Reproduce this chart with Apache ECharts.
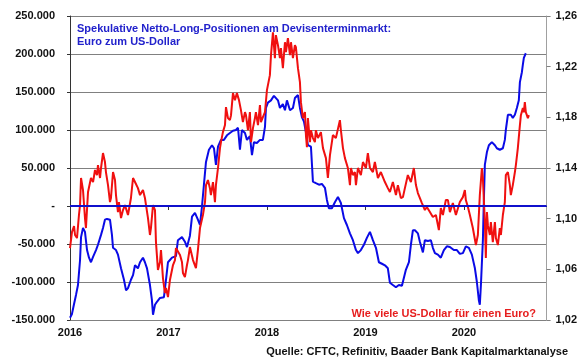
<!DOCTYPE html>
<html>
<head>
<meta charset="utf-8">
<script src="https://cdn.jsdelivr.net/npm/echarts@6/dist/echarts.min.js"></script>
<style>
html,body{margin:0;padding:0;background:#fff;}
#chart{width:580px;height:359px;}
</style>
</head>
<body>
<div id="chart"></div>
<script>
// Weekly CFTC net long positions, EUR vs USD (x = decimal year)
const blueDates = [2016.000,2016.020,2016.041,2016.061,2016.081,2016.102,2016.112,2016.132,2016.152,2016.173,2016.193,2016.213,2016.234,2016.264,2016.284,2016.315,2016.335,2016.355,2016.376,2016.406,2016.426,2016.437,2016.467,2016.487,2016.518,2016.548,2016.569,2016.589,2016.619,2016.640,2016.660,2016.690,2016.711,2016.741,2016.761,2016.782,2016.812,2016.832,2016.843,2016.863,2016.883,2016.914,2016.954,2016.975,2016.995,2017.036,2017.076,2017.096,2017.137,2017.167,2017.188,2017.218,2017.239,2017.269,2017.299,2017.320,2017.340,2017.360,2017.381,2017.411,2017.442,2017.462,2017.482,2017.503,2017.533,2017.563,2017.594,2017.624,2017.655,2017.685,2017.706,2017.726,2017.746,2017.777,2017.797,2017.827,2017.848,2017.868,2017.898,2017.929,2017.959,2017.980,2017.990,2018.010,2018.041,2018.071,2018.091,2018.112,2018.132,2018.162,2018.183,2018.203,2018.234,2018.264,2018.284,2018.315,2018.335,2018.355,2018.376,2018.396,2018.416,2018.447,2018.467,2018.497,2018.528,2018.558,2018.589,2018.609,2018.629,2018.660,2018.690,2018.721,2018.751,2018.782,2018.812,2018.843,2018.873,2018.904,2018.924,2018.954,2018.985,2019.015,2019.046,2019.076,2019.107,2019.137,2019.168,2019.198,2019.228,2019.249,2019.279,2019.310,2019.340,2019.371,2019.391,2019.411,2019.442,2019.462,2019.482,2019.503,2019.533,2019.553,2019.584,2019.604,2019.635,2019.665,2019.685,2019.706,2019.736,2019.766,2019.797,2019.827,2019.858,2019.898,2019.929,2019.959,2019.990,2020.020,2020.051,2020.081,2020.112,2020.132,2020.152,2020.162,2020.173,2020.193,2020.203,2020.213,2020.234,2020.254,2020.284,2020.315,2020.335,2020.365,2020.396,2020.416,2020.426,2020.447,2020.477,2020.497,2020.518,2020.538,2020.558,2020.569,2020.589,2020.599,2020.609,2020.629];
const blueValues = [-147000,-142000,-129000,-117000,-104000,-71000,-41000,-29000,-34000,-58000,-68000,-74000,-67000,-58000,-51000,-38000,-29000,-18000,-17000,-18000,-38000,-55000,-58000,-64000,-82000,-97000,-111000,-108000,-97000,-91000,-78000,-82000,-74000,-68000,-74000,-82000,-104000,-124000,-143000,-130000,-126000,-121000,-120000,-97000,-74000,-68000,-66000,-45000,-41000,-47000,-54000,-39000,-14000,-9000,-18000,-25000,-1000,28000,58000,74000,80000,76000,54000,78000,87000,87000,93000,96000,99000,100000,103000,74000,100000,96000,87000,92000,67000,84000,83000,87000,87000,104000,129000,136000,139000,145000,146000,139000,129000,134000,126000,139000,126000,129000,142000,146000,129000,117000,111000,97000,80000,78000,32000,30000,28000,29000,24000,8000,-3000,-3000,5000,12000,4000,-16000,-25000,-36000,-45000,-58000,-62000,-58000,-51000,-42000,-34000,-45000,-55000,-74000,-76000,-78000,-82000,-101000,-104000,-107000,-104000,-105000,-103000,-84000,-74000,-51000,-32000,-32000,-36000,-47000,-61000,-45000,-46000,-45000,-55000,-62000,-64000,-68000,-58000,-53000,-54000,-58000,-58000,-63000,-62000,-53000,-55000,-64000,-82000,-100000,-124000,-130000,-104000,-45000,8000,54000,71000,80000,84000,80000,76000,74000,76000,87000,100000,120000,120000,116000,120000,129000,139000,163000,176000,186000,195000,201000];

// EUR/USD exchange rate (x = decimal year)
const redDates = [2016.000,2016.020,2016.041,2016.051,2016.071,2016.091,2016.102,2016.112,2016.132,2016.152,2016.162,2016.183,2016.213,2016.234,2016.254,2016.274,2016.284,2016.305,2016.315,2016.335,2016.355,2016.365,2016.386,2016.406,2016.416,2016.437,2016.457,2016.467,2016.487,2016.497,2016.518,2016.538,2016.558,2016.589,2016.619,2016.640,2016.660,2016.690,2016.711,2016.741,2016.761,2016.772,2016.792,2016.812,2016.822,2016.843,2016.863,2016.873,2016.893,2016.914,2016.924,2016.944,2016.964,2016.975,2016.995,2017.015,2017.046,2017.066,2017.076,2017.096,2017.117,2017.137,2017.147,2017.167,2017.188,2017.198,2017.218,2017.249,2017.279,2017.289,2017.299,2017.320,2017.350,2017.371,2017.381,2017.401,2017.421,2017.431,2017.452,2017.472,2017.482,2017.503,2017.523,2017.533,2017.553,2017.574,2017.584,2017.604,2017.624,2017.635,2017.655,2017.675,2017.695,2017.716,2017.736,2017.756,2017.777,2017.787,2017.807,2017.827,2017.838,2017.858,2017.878,2017.888,2017.909,2017.929,2017.939,2017.959,2017.980,2018.000,2018.010,2018.030,2018.041,2018.061,2018.081,2018.091,2018.112,2018.132,2018.142,2018.162,2018.183,2018.193,2018.213,2018.234,2018.244,2018.264,2018.284,2018.294,2018.315,2018.335,2018.345,2018.365,2018.386,2018.396,2018.406,2018.416,2018.437,2018.447,2018.467,2018.487,2018.497,2018.518,2018.548,2018.569,2018.599,2018.619,2018.640,2018.670,2018.700,2018.741,2018.751,2018.772,2018.792,2018.822,2018.843,2018.853,2018.873,2018.893,2018.904,2018.924,2018.954,2018.975,2019.005,2019.025,2019.046,2019.076,2019.096,2019.127,2019.157,2019.198,2019.228,2019.249,2019.279,2019.310,2019.330,2019.360,2019.381,2019.401,2019.431,2019.462,2019.492,2019.513,2019.533,2019.553,2019.574,2019.584,2019.604,2019.624,2019.655,2019.685,2019.716,2019.746,2019.766,2019.787,2019.817,2019.838,2019.858,2019.888,2019.919,2019.959,2019.990,2020.010,2020.020,2020.041,2020.061,2020.091,2020.122,2020.142,2020.162,2020.183,2020.193,2020.213,2020.223,2020.234,2020.244,2020.264,2020.274,2020.294,2020.315,2020.325,2020.345,2020.365,2020.376,2020.396,2020.416,2020.426,2020.447,2020.467,2020.477,2020.497,2020.518,2020.528,2020.548,2020.569,2020.579,2020.599,2020.609,2020.619,2020.629,2020.650,2020.660];
const redValues = [1.0768,1.0894,1.0942,1.0871,1.0847,1.1029,1.1107,1.1321,1.1226,1.1005,1.0926,1.1210,1.1321,1.1289,1.1384,1.1344,1.1423,1.1321,1.1400,1.1518,1.1447,1.1368,1.1265,1.1131,1.1163,1.1368,1.1305,1.1186,1.1052,1.1131,1.1005,1.1068,1.1107,1.1029,1.1163,1.1321,1.1289,1.1241,1.1186,1.1226,1.1163,1.1107,1.1005,1.0871,1.0926,1.1107,1.1068,1.0815,1.0595,1.0658,1.0752,1.0531,1.0413,1.0452,1.0381,1.0516,1.0634,1.0673,1.0768,1.0776,1.0713,1.0658,1.0571,1.0539,1.0634,1.0673,1.0776,1.0673,1.0610,1.0595,1.0752,1.0926,1.1029,1.1131,1.1265,1.1305,1.1241,1.1186,1.1289,1.1131,1.1265,1.1400,1.1557,1.1604,1.1683,1.1739,1.1881,1.1794,1.1778,1.1817,1.1991,1.1936,1.1991,1.1936,1.1857,1.1762,1.1841,1.1817,1.1699,1.1841,1.1604,1.1715,1.1794,1.1841,1.1739,1.1896,1.1762,1.1802,1.1841,1.2015,1.2054,1.2133,1.2291,1.2472,1.2267,1.2449,1.2370,1.2267,1.2346,1.2188,1.2393,1.2315,1.2425,1.2291,1.2393,1.2267,1.2370,1.2354,1.2188,1.2078,1.1920,1.1794,1.1841,1.1660,1.1565,1.1794,1.1604,1.1699,1.1636,1.1604,1.1699,1.1636,1.1683,1.1557,1.1478,1.1321,1.1502,1.1660,1.1636,1.1778,1.1699,1.1557,1.1478,1.1400,1.1265,1.1400,1.1344,1.1368,1.1265,1.1400,1.1344,1.1447,1.1400,1.1518,1.1400,1.1368,1.1447,1.1321,1.1368,1.1289,1.1241,1.1210,1.1289,1.1186,1.1265,1.1163,1.1170,1.1241,1.1344,1.1289,1.1400,1.1265,1.1202,1.1210,1.1123,1.1131,1.1068,1.1092,1.1052,1.1013,1.1029,1.0910,1.1084,1.1029,1.1147,1.1147,1.1052,1.1123,1.1029,1.1131,1.1170,1.1226,1.1147,1.1092,1.1029,1.0926,1.0792,1.0871,1.1186,1.1400,1.1321,1.0973,1.0689,1.1052,1.0947,1.0871,1.0973,1.0815,1.0973,1.0847,1.0792,1.0926,1.0871,1.1029,1.1131,1.1344,1.1368,1.1265,1.1186,1.1265,1.1368,1.1423,1.1557,1.1739,1.1817,1.1873,1.1841,1.1920,1.1841,1.1794,1.1817];

const yearTicks = [2016, 2017, 2018, 2019, 2020];
const leftTicks = [-150000, -100000, -50000, 0, 50000, 100000, 150000, 200000, 250000];
const rightTicks = [1.02, 1.06, 1.10, 1.14, 1.18, 1.22, 1.26];

const titleText = 'Spekulative Netto-Long-Positionen am Devisenterminmarkt:\nEuro zum US-Dollar';
const redNote = 'Wie viele US-Dollar für einen Euro?';
const sourceText = 'Quelle: CFTC, Refinitiv, Baader Bank Kapitalmarktanalyse';

const FONT = '"Liberation Sans", Arial, sans-serif';
const BLUE = '#0a0ae6';
const RED = '#f01010';

const chart = echarts.init(document.getElementById('chart'), null, {renderer: 'canvas'});

function fmtLeft(v) {
  if (v === 0) return '-';
  const s = Math.abs(v) / 1000;
  return (v < 0 ? '-' : '') + s + '.000';
}

chart.setOption({
  animation: false,
  backgroundColor: '#ffffff',
  textStyle: {fontFamily: FONT},
  title: [
    {text: titleText, left: 72, top: 17,
     textStyle: {fontFamily: FONT, fontSize: 11, fontWeight: 'bold', color: '#2222cc', lineHeight: 13}},
    {text: redNote, right: 39, top: 303,
     textStyle: {fontFamily: FONT, fontSize: 11, fontWeight: 'bold', color: '#e61e1e'}},
    {text: sourceText, right: 7, top: 341,
     textStyle: {fontFamily: FONT, fontSize: 11, fontWeight: 'bold', color: '#111111'}}
  ],
  grid: {left: 70, right: 33, top: 16, bottom: 39, containLabel: false},
  xAxis: {
    type: 'value',
    min: yearTicks[0],
    max: 2020.84,
    interval: 1,
    axisLine: {show: true, lineStyle: {color: '#333333', width: 1}},
    axisTick: {show: true, length: 4, lineStyle: {color: '#333333'}},
    splitLine: {show: false},
    axisLabel: {
      margin: 7, fontSize: 11, fontWeight: 'bold', color: '#111111', fontFamily: FONT,
      showMaxLabel: false,
      formatter: function (v) { return yearTicks.indexOf(Math.round(v * 1000) / 1000) >= 0 ? String(v) : ''; }
    }
  },
  yAxis: [
    {
      type: 'value',
      min: leftTicks[0],
      max: leftTicks[leftTicks.length - 1],
      interval: 50000,
      position: 'left',
      axisLine: {show: true, lineStyle: {color: '#333333', width: 1}},
      axisTick: {show: true, length: 3, lineStyle: {color: '#333333'}},
      splitLine: {show: true, lineStyle: {color: '#808080', width: 1}},
      axisLabel: {margin: 15, fontSize: 11, fontWeight: 'bold', color: '#111111', fontFamily: FONT, formatter: fmtLeft}
    },
    {
      type: 'value',
      min: rightTicks[0],
      max: rightTicks[rightTicks.length - 1],
      interval: 0.04,
      position: 'right',
      axisLine: {show: true, lineStyle: {color: '#a0a0a0', width: 1}},
      axisTick: {show: true, length: 4, lineStyle: {color: '#808080'}},
      splitLine: {show: false},
      axisLabel: {margin: 9, fontSize: 11, fontWeight: 'bold', color: '#111111', fontFamily: FONT,
        formatter: function (v) { return v.toFixed(2).replace('.', ','); }}
    }
  ],
  series: [
    {
      name: 'CFTC',
      type: 'line',
      yAxisIndex: 0,
      data: blueDates.map(function (d, i) { return [d, blueValues[i]]; }),
      showSymbol: false,
      symbol: 'none',
      lineStyle: {color: BLUE, width: 2},
      z: 2,
      markLine: {
        silent: true,
        symbol: ['none', 'none'],
        label: {show: false},
        lineStyle: {color: '#1010cc', width: 2, type: 'solid'},
        data: [{yAxis: 0}]
      }
    },
    {
      name: 'EURUSD',
      type: 'line',
      yAxisIndex: 1,
      data: redDates.map(function (d, i) { return [d, redValues[i]]; }),
      showSymbol: false,
      symbol: 'none',
      lineStyle: {color: RED, width: 2},
      z: 3
    }
  ]
});
</script>
</body>
</html>
